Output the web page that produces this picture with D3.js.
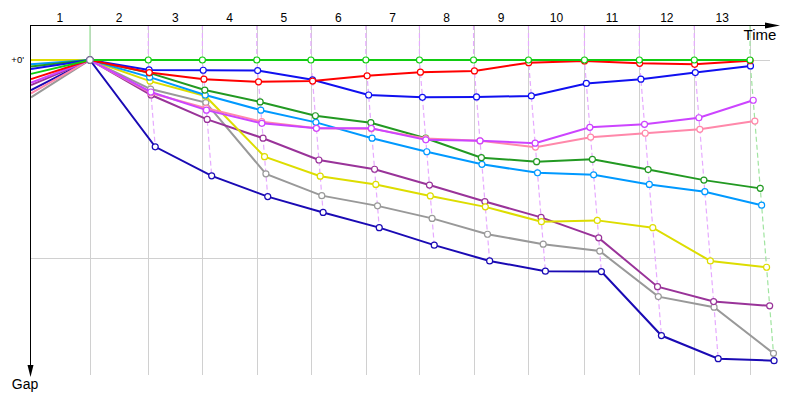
<!DOCTYPE html>
<html>
<head>
<meta charset="utf-8">
<script src="https://cdn.jsdelivr.net/npm/d3@7"></script>
<style>
  body { margin: 0; background: #fff; }
  svg { display: block; font-family: "Liberation Sans", Arial, sans-serif; }
</style>
</head>
<body>
<svg id="chart" width="800" height="400"></svg>
<script>
// lap numbers shown on the time axis
const lapLabels = ['1', '2', '3', '4', '5', '6', '7', '8', '9', '10', '11', '12', '13'];
// leader lap times (s)
const leaderLapTimes = [227, 221, 205, 206, 205, 208, 203, 205, 208, 212, 208, 208, 211];

// gap to leader (s) at the end of each lap
const gapGreen   = [0, 0, 0, 0, 0, 0, 0, 0, 0, 0, 0, 0, 0];
const gapRed     = [0, 3.8, 5.8, 6.6, 6.4, 4.8, 3.7, 3.3, 0.8, 0.3, 1.0, 1.3, 0.2];
const gapBlue    = [0, 3.0, 3.1, 3.2, 6.0, 10.6, 11.3, 11.2, 10.9, 7.1, 5.8, 3.8, 1.8];
const gapMagenta = [0, 9.7, 15.2, 19.2, 20.7, 20.7, 24.2, 24.5, 25.2, 20.4, 19.5, 17.5, 12.2];
const gapPink    = [0, 10.0, 14.6, 18.7, 20.7, 20.8, 23.8, 24.5, 26.4, 23.4, 22.2, 21.0, 18.5];
const gapDkGreen = [0, 3.9, 9.1, 12.7, 16.9, 19.0, 23.7, 29.6, 30.8, 30.1, 33.2, 36.4, 38.9];
const gapLtBlue  = [0, 5.2, 10.6, 15.2, 18.9, 23.7, 27.8, 31.6, 34.2, 34.8, 37.7, 39.9, 44.0];
const gapYellow  = [0, 6.4, 10.9, 29.3, 35.2, 37.7, 41.2, 44.5, 49.0, 48.6, 50.8, 60.9, 62.8];
const gapPurple  = [0, 10.6, 18.0, 23.7, 30.3, 33.1, 37.9, 42.9, 47.7, 53.9, 68.7, 73.2, 74.5];
const gapGray    = [0, 8.8, 12.9, 34.5, 41.1, 44.2, 48.0, 52.8, 55.8, 57.9, 71.7, 74.9, 88.9];
const gapNavy    = [0, 26.3, 35.1, 41.4, 46.2, 50.8, 56.1, 60.9, 64.0, 64.1, 83.5, 90.5, 91.1];

// spacing on the starting grid (s)
const gridGap = { green: 4.2, red: 5.8, blue: 2.7, magenta: 6.9, pink: 10.1, dkgreen: 2.0,
                  ltblue: 1.3, yellow: 0, purple: 7.6, gray: 11.3, navy: 9.1 };

// drawn bottom first
const series = [
  { key: 'green',   color: '#11cc11', gaps: gapGreen },
  { key: 'gray',    color: '#999999', gaps: gapGray },
  { key: 'navy',    color: '#1a0ab4', gaps: gapNavy },
  { key: 'purple',  color: '#993399', gaps: gapPurple },
  { key: 'yellow',  color: '#dddd00', gaps: gapYellow },
  { key: 'ltblue',  color: '#0099ff', gaps: gapLtBlue },
  { key: 'dkgreen', color: '#229922', gaps: gapDkGreen },
  { key: 'pink',    color: '#ff88aa', gaps: gapPink },
  { key: 'magenta', color: '#cc44ff', gaps: gapMagenta },
  { key: 'blue',    color: '#1010f0', gaps: gapBlue },
  { key: 'red',     color: '#ff0000', gaps: gapRed }
];

const svg = d3.select('#chart');
const plotLeft = 30, plotRight = 770, plotTop = 25, plotBottom = 375;

const lapEnds = Array.from(d3.cumsum(leaderLapTimes));
const bounds = [0, ...lapEnds];

const x = d3.scaleLinear()
  .domain([0, d3.sum(leaderLapTimes)])
  .range([plotLeft, 750]);

const y = d3.scaleLinear()
  .domain([0, 60])
  .range([60, 258]);

// grid
const grid = svg.append('g').attr('stroke', '#d0d0d0').attr('stroke-width', 1);
grid.selectAll('line.v')
  .data(lapEnds)
  .join('line')
  .attr('class', 'v')
  .attr('x1', d => Math.round(x(d)) + 0.5)
  .attr('x2', d => Math.round(x(d)) + 0.5)
  .attr('y1', plotTop)
  .attr('y2', plotBottom);
grid.selectAll('line.h')
  .data([0, 60])
  .join('line')
  .attr('class', 'h')
  .attr('x1', plotLeft)
  .attr('x2', plotRight)
  .attr('y1', d => Math.round(y(d)) + 0.5)
  .attr('y2', d => Math.round(y(d)) + 0.5);

// lap lines joining every car at the end of the same lap
const lapLine = d3.line().x(d => d[0]).y(d => d[1]);
lapEnds.forEach((t, i) => {
  const pts = series
    .map(s => s.gaps[i])
    .sort((a, b) => a - b)
    .map(g => [x(t + g), y(g)]);
  const first = i === 0, last = i === lapEnds.length - 1;
  svg.append('path')
    .attr('d', lapLine([[x(t), plotTop], ...pts]))
    .attr('fill', 'none')
    .attr('stroke', first || last ? '#a0e4a0' : '#e6aaff')
    .attr('stroke-width', 1.2)
    .attr('stroke-dasharray', first ? null : '5,3');
});

// car lines
const carLine = d3.line().x(d => d.px).y(d => d.py);
const layers = series.map(() => svg.append('g'));
// green leader line is drawn on top, its markers too
const order = [...series.slice(1), series[0]];
order.forEach((s, k) => {
  const pts = [{ px: x(0) + 1, py: y(gridGap[s.key]), dot: false }]
    .concat(s.gaps.map((g, i) => ({ px: x(lapEnds[i] + g), py: y(g), dot: true })));
  const g = layers[k];
  g.append('path')
    .attr('d', carLine(pts))
    .attr('fill', 'none')
    .attr('stroke', s.color)
    .attr('stroke-width', 2);
  g.selectAll('circle')
    .data(pts.filter((p, i) => p.dot && !(i === 1 && s.key === 'green')))
    .join('circle')
    .attr('cx', d => d.px)
    .attr('cy', d => d.py)
    .attr('r', 3)
    .attr('fill', '#fff')
    .attr('stroke', s.color)
    .attr('stroke-width', 1.2);
});
// common point at the end of lap 1 (all cars level)
svg.append('circle')
  .attr('cx', x(lapEnds[0]))
  .attr('cy', y(0))
  .attr('r', 3.3)
  .attr('fill', '#fff')
  .attr('stroke', '#777799')
  .attr('stroke-width', 1.3);

// axes
svg.append('line')
  .attr('x1', plotLeft).attr('x2', 768)
  .attr('y1', plotTop + 0.5).attr('y2', plotTop + 0.5)
  .attr('stroke', '#000');
svg.append('path')
  .attr('d', 'M765,22.5L780,25.5L765,28.5Z')
  .attr('fill', '#000');
svg.append('line')
  .attr('x1', plotLeft + 0.5).attr('x2', plotLeft + 0.5)
  .attr('y1', plotTop).attr('y2', 368)
  .attr('stroke', '#000');
svg.append('path')
  .attr('d', 'M27.5,365L30.5,377L33.5,365Z')
  .attr('fill', '#000');

svg.selectAll('text.lap')
  .data(lapLabels)
  .join('text')
  .attr('class', 'lap')
  .attr('x', (d, i) => (x(bounds[i]) + x(bounds[i + 1])) / 2)
  .attr('y', 22)
  .attr('text-anchor', 'middle')
  .attr('font-size', 12)
  .text(d => d);

svg.append('text')
  .attr('x', 760).attr('y', 40)
  .attr('text-anchor', 'middle')
  .attr('font-size', 15)
  .text('Time');

svg.append('text')
  .attr('x', 25).attr('y', 389)
  .attr('text-anchor', 'middle')
  .attr('font-size', 14)
  .text('Gap');

svg.append('text')
  .attr('x', 24).attr('y', 63)
  .attr('text-anchor', 'end')
  .attr('font-size', 9.5)
  .text("+0'");
</script>
</body>
</html>
